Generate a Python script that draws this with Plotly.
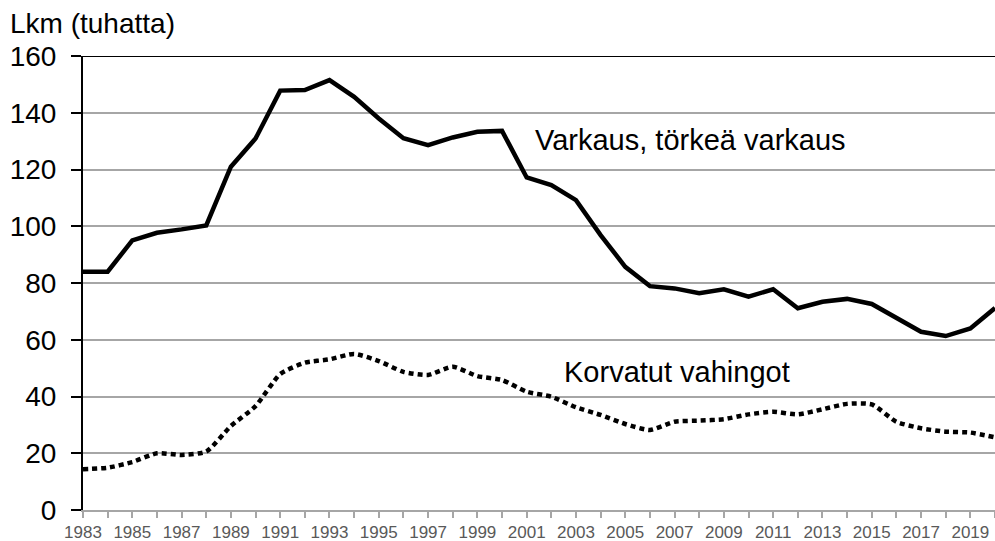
import plotly.graph_objects as go

# Vuodet 1983–2020
years = list(range(1983, 2021))

# Varkaus, törkeä varkaus (tuhatta)
varkaus = [84.0, 84.0, 95.0, 97.7, 98.9, 100.3, 121.0, 130.9, 147.8, 148.0,
           151.5, 145.6, 138.0, 131.0, 128.6, 131.3, 133.3, 133.6, 117.2, 114.5,
           109.2, 96.9, 85.7, 78.9, 78.1, 76.4, 77.8, 75.2, 77.8, 71.1,
           73.4, 74.4, 72.6, 67.9, 62.8, 61.3, 64.0, 71.2]

# Korvatut vahingot (tuhatta)
korvatut = [14.4, 14.9, 16.9, 20.0, 19.4, 20.6, 29.6, 36.6, 47.9, 51.9,
            53.1, 55.0, 52.5, 48.7, 47.6, 50.5, 47.2, 45.8, 41.7, 39.9,
            36.2, 33.5, 30.3, 28.2, 31.1, 31.5, 32.0, 33.7, 34.6, 33.7,
            35.5, 37.4, 37.2, 31.1, 28.8, 27.6, 27.3, 25.6]

tick_years = list(range(1983, 2020, 2))
y_ticks = [0, 20, 40, 60, 80, 100, 120, 140, 160]

FONT = "Liberation Sans, Arial, sans-serif"
GRID = "#a6a6a6"

fig = go.Figure()

fig.add_trace(go.Scatter(
    x=years, y=korvatut, mode="lines",
    line=dict(color="black", width=4.5, dash="5px,4px", shape="spline", smoothing=0.6),
    showlegend=False, hoverinfo="skip",
))
fig.add_trace(go.Scatter(
    x=years, y=varkaus, mode="lines",
    line=dict(color="black", width=4.5),
    showlegend=False, hoverinfo="skip",
))

fig.update_layout(
    width=995, height=541,
    margin=dict(l=83, r=0, t=56, b=31, autoexpand=False),
    paper_bgcolor="white", plot_bgcolor="white",
    font=dict(family=FONT, color="black"),
    xaxis=dict(
        range=[1983, 2020], tickmode="array", tickvals=tick_years,
        ticktext=[str(y) for y in tick_years],
        showgrid=False, zeroline=False, automargin=False,
        showline=True, linecolor=GRID, linewidth=2,
        ticks="",
        # one tick mark per year, labels every second year
        minor=dict(dtick=1, tick0=1983, ticks="outside", ticklen=6,
                   tickwidth=2, tickcolor=GRID, showgrid=False),
        tickfont=dict(size=17, color="#595959", family=FONT),
        ticklabelstandoff=6,
        fixedrange=True,
    ),
    yaxis=dict(
        range=[0, 160], tickvals=y_ticks, automargin=False,
        showgrid=True, gridcolor=GRID, gridwidth=2, zeroline=False,
        showline=True, linecolor="black", linewidth=2,
        ticks="outside", ticklen=10, tickwidth=2, tickcolor="black",
        tickfont=dict(size=28, color="black", family=FONT),
        ticklabelstandoff=9,
        fixedrange=True,
    ),
    shapes=[dict(type="line", xref="paper", yref="y", x0=0, x1=1, y0=160, y1=160,
                 line=dict(color="black", width=2))],
    annotations=[
        dict(text="Lkm (tuhatta)", xref="paper", yref="paper",
             x=-0.082, y=1.0705, xanchor="left", yanchor="middle",
             showarrow=False, font=dict(size=28, color="black", family=FONT)),
        dict(text="Varkaus, törkeä varkaus", xref="x", yref="y",
             x=2001.25, y=130.4, xanchor="left", yanchor="middle",
             showarrow=False, font=dict(size=29, color="black", family=FONT)),
        dict(text="Korvatut vahingot", xref="x", yref="y",
             x=2002.45, y=48.6, xanchor="left", yanchor="middle",
             showarrow=False, font=dict(size=29, color="black", family=FONT)),
    ],
)

fig.write_html("out.html")
